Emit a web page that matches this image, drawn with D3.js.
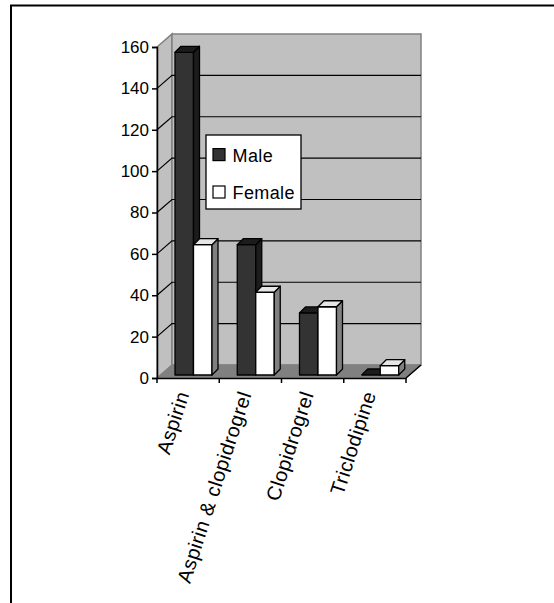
<!DOCTYPE html>
<html>
<head>
<meta charset="utf-8">
<script src="https://cdn.jsdelivr.net/npm/d3@7"></script>
<style>
  html, body { margin: 0; padding: 0; background: #fff; }
  svg { display: block; }
  text { font-family: "Liberation Sans", Arial, sans-serif; fill: #000; }
</style>
</head>
<body>
<svg id="chart" width="554" height="603"></svg>
<script>
var categories = ["Aspirin", "Aspirin & clopidrogrel", "Clopidrogrel", "Triclodipine"];
var seriesNames = ["Male", "Female"];
var maleValues = [156, 63, 30, 0];
var femaleValues = [63, 40, 33, 4.5];
var yTicks = [0, 20, 40, 60, 80, 100, 120, 140, 160];

var seriesColors = {Male: "#333333", Female: "#ffffff"};
var sideColors = {Male: "#1c1c1c", Female: "#808080"};
var topColors = {Male: "#1c1c1c", Female: "#e6e6e6"};

var svg = d3.select("#chart");

// outer frame: only the left and top edges are in the picture
svg.append("path")
    .attr("d", "M11,603V5.5H554")
    .attr("fill", "none")
    .attr("stroke", "#000")
    .attr("stroke-width", 2);

var left = 157, right = 406, top0 = 47, bottom = 378;
var depthX = 15, depthY = 13;   // depth of the 3d box

var x = d3.scaleBand().domain(categories).range([left, right]);
var y = d3.scaleLinear().domain([0, 160]).range([bottom, top0]);
var inner = d3.scaleBand().domain(seriesNames).range([18, 55]);

// walls
svg.append("path")
    .attr("d", d3.line()([[left, top0], [left + depthX, top0 - depthY], [left + depthX, bottom - depthY], [left, bottom]]) + "Z")
    .attr("fill", "#c0c0c0").attr("stroke", "#808080").attr("stroke-width", 1.5);
svg.append("rect")
    .attr("x", left + depthX).attr("y", top0 - depthY)
    .attr("width", right - left).attr("height", bottom - top0)
    .attr("fill", "#c0c0c0").attr("stroke", "#808080").attr("stroke-width", 1.5);
svg.append("path")
    .attr("d", d3.line()([[left, bottom], [left + depthX, bottom - depthY], [right + depthX, bottom - depthY], [right, bottom]]) + "Z")
    .attr("fill", "#808080").attr("stroke", "#808080");

// gridlines on side wall and back wall
yTicks.slice(1).forEach(function(t) {
  svg.append("path")
      .attr("d", d3.line()([[left, y(t)], [left + depthX, y(t) - depthY], [right + depthX, y(t) - depthY]]))
      .attr("fill", "none")
      .attr("stroke", t == 160 ? "none" : "#000")
      .attr("stroke-width", 1.2);
});

// bars: front face sits a little in front of the back wall
var barBase = 375, d = 6;
var barScale = function(v) { return barBase - (bottom - y(v)); };

categories.forEach(function(c, i) {
  seriesNames.forEach(function(s) {
    var v = (s == "Male" ? maleValues : femaleValues)[i];
    var x0 = x(c) + inner(s), x1 = x0 + inner.bandwidth(), yt = barScale(v);
    var g = svg.append("g").attr("stroke", "#000").attr("stroke-width", 1.3).attr("stroke-linejoin", "round");
    if (v > 0) {
      g.append("rect").attr("x", x0).attr("y", yt)
          .attr("width", x1 - x0).attr("height", barBase - yt)
          .attr("fill", seriesColors[s]);
      g.append("path")
          .attr("d", d3.line()([[x1, yt], [x1 + d, yt - d], [x1 + d, barBase - d], [x1, barBase]]) + "Z")
          .attr("fill", sideColors[s]);
    }
    g.append("path")
        .attr("d", d3.line()([[x0, yt], [x0 + d, yt - d], [x1 + d, yt - d], [x1, yt]]) + "Z")
        .attr("fill", topColors[s]);
  });
});

// y axis
var yAxis = svg.append("g")
    .attr("transform", "translate(" + left + ",0)")
    .call(d3.axisLeft(y).tickValues(yTicks).tickSizeOuter(0).tickSize(5).tickPadding(3));
yAxis.selectAll("path, line").attr("stroke", "#000").attr("stroke-width", 1.5);
yAxis.selectAll("text").style("font-size", "17px");

// x axis
var xAxis = svg.append("g")
    .attr("transform", "translate(0," + bottom + ")")
    .call(d3.axisBottom(x).tickSizeOuter(0).tickSize(0).tickFormat(""));
xAxis.selectAll("path").attr("stroke", "#000").attr("stroke-width", 1.5);

// tick marks sit on the category boundaries
svg.selectAll(".xtick")
    .data(categories.concat(["end"]))
    .enter().append("line")
    .attr("x1", function(c) { return c == "end" ? right : x(c); })
    .attr("x2", function(c) { return c == "end" ? right : x(c); })
    .attr("y1", bottom).attr("y2", bottom + 5)
    .attr("stroke", "#000").attr("stroke-width", 1.5);
svg.append("line")
    .attr("x1", right).attr("y1", bottom)
    .attr("x2", right + depthX).attr("y2", bottom - depthY)
    .attr("stroke", "#000").attr("stroke-width", 1.5);

// rotated category labels, end anchored under the tick
svg.selectAll(".xlabel")
    .data(categories)
    .enter().append("text")
    .attr("transform", function(c) {
      return "translate(" + (x(c) + 32.5) + "," + (bottom + 16) + ") rotate(-72)";
    })
    .attr("text-anchor", "end")
    .style("font-size", "20px")
    .style("letter-spacing", "0.5px")
    .text(function(c) { return c; });

// legend
var legend = svg.append("g").attr("transform", "translate(206,135)");
legend.append("rect")
    .attr("width", 95).attr("height", 74)
    .attr("fill", "#fff").attr("stroke", "#000").attr("stroke-width", 1.3);
var legendRow = d3.scalePoint().domain(seriesNames).range([19.6, 57]);
seriesNames.forEach(function(s) {
  legend.append("rect")
      .attr("x", 7).attr("y", legendRow(s) - 6)
      .attr("width", 12).attr("height", 12)
      .attr("fill", seriesColors[s]).attr("stroke", "#000").attr("stroke-width", 1.2);
  legend.append("text")
      .attr("x", 26.5).attr("y", legendRow(s) + 7)
      .style("font-size", "18px")
      .style("letter-spacing", "0.4px")
      .text(s);
});
</script>
</body>
</html>
